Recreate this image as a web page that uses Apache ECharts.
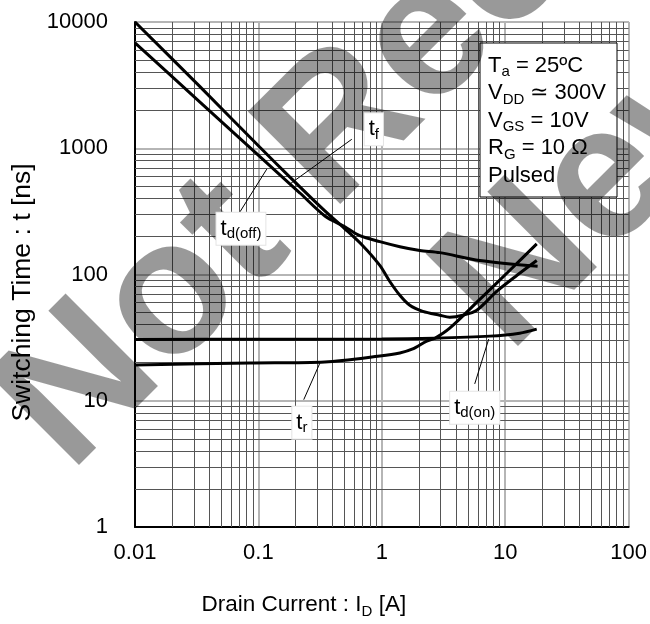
<!DOCTYPE html>
<html><head><meta charset="utf-8">
<script src="https://cdn.jsdelivr.net/npm/echarts@6/dist/echarts.min.js"></script>
<style>html,body{margin:0;padding:0;background:#fff}#c{width:650px;height:624px}</style>
</head><body><div id="c"></div>
<script>
// ---- data ----
const tfI    = [0.01, 0.0336, 0.1028, 0.180, 0.3455, 0.502, 0.701, 0.963, 1.161, 1.40, 1.685, 2.148, 2.95, 3.55, 4.53, 5.88, 8.53, 12.4, 18.0];
const tfT    = [10000, 3077, 1018, 591, 319, 230, 169, 118, 88, 68.4, 57, 51.1, 47.6, 45.9, 47.6, 52.1, 73.5, 98.2, 129];
const tdoffI = [0.01, 0.0336, 0.1028, 0.217, 0.3455, 0.502, 0.664, 0.963, 1.40, 2.03, 2.95, 6.22, 18.3];
const tdoffT = [6840, 2323, 857, 442, 291, 239, 203, 182, 166, 155, 149, 129, 116];
const trI    = [0.01, 0.0853, 0.3455, 0.963, 1.40, 1.78, 2.31, 2.69, 3.55, 6.22, 10.9, 18.0];
const trT    = [19.2, 19.9, 20.3, 22.6, 23.9, 25.7, 29.7, 31.3, 37.6, 63.6, 108, 175];
const tdonI  = [0.01, 0.1, 1, 2.69, 7.49, 13.1, 18.0];
const tdonT  = [30.6, 30.7, 30.8, 31.3, 32.5, 34.3, 36.9];
const xTicks = [0.01, 0.1, 1, 10, 100];
const yTicks = [1, 10, 100, 1000, 10000];
// curve labels: [text, labelI, labelT, leaderFromI, leaderFromT, leaderToI, leaderToT]
const curveLabels = [
  ['{m|t}{s|f}',      0.861, 1412, 0.180, 521, 0.571, 1178],
  ['{m|t}{s|d(off)}', 0.0722, 230, 0.0708, 313, 0.117, 684],
  ['{m|t}{s|r}',      0.225, 6.71, 0.233, 10.2, 0.315, 19.9],
  ['{m|t}{s|d(on)}',  5.66, 8.81, 5.66, 13.6, 7.35, 30.8]
];
const conditions = '{m|T}{s|a}{m| = 25ºC}\n{m|V}{s|DD}{m| ≃ 300V}\n{m|V}{s|GS}{m| = 10V}\n{m|R}{s|G}{m| = 10 Ω}\n{m|Pulsed}';

const FONT = '"Liberation Sans", Arial, sans-serif';
const zip = (a, b) => a.map((v, i) => [v, b[i]]);
const minorX = [], minorY = [];
for (let k = -2; k <= 1; k++) for (let m = 2; m <= 9; m++) minorX.push({xAxis: +(m * Math.pow(10, k)).toPrecision(3)});
for (let k = 0; k <= 3; k++) for (let m = 2; m <= 9; m++) minorY.push({yAxis: +(m * Math.pow(10, k)).toPrecision(3)});
const fmt = v => String(+(+v).toPrecision(6));

const chart = echarts.init(document.getElementById('c'), null, {renderer: 'canvas'});
const curve = (name, data) => ({
  name, type: 'line', data, smooth: 0.3, showSymbol: false, z: 5,
  lineStyle: {color: '#000', width: 3}, animation: false
});
chart.setOption({
  animation: false,
  backgroundColor: '#fff',
  grid: {left: 135, right: 21, top: 22, bottom: 94, show: true, borderColor: '#222', borderWidth: 1, backgroundColor: 'transparent'},
  xAxis: {
    type: 'log', logBase: 10, min: xTicks[0], max: xTicks[xTicks.length - 1], interval: 1,
    name: '{m|Drain Current : I}{s|D}{m| [A]}', nameLocation: 'middle', nameGap: 64,
    nameTextStyle: {padding: [0, 156, 0, 0], rich: {
      m: {fontSize: 22.5, fontFamily: FONT, color: '#000', lineHeight: 28},
      s: {fontSize: 15, fontFamily: FONT, color: '#000', lineHeight: 14, verticalAlign: 'bottom'}
    }},
    axisLine: {show: true, lineStyle: {color: '#000', width: 2}},
    axisTick: {show: false},
    axisLabel: {fontSize: 22, fontFamily: FONT, color: '#000', margin: 15, showMinLabel: true, showMaxLabel: true, formatter: fmt},
    splitLine: {show: true, lineStyle: {color: '#b5b5b5', width: 2}}
  },
  yAxis: {
    type: 'log', logBase: 10, min: yTicks[0], max: yTicks[yTicks.length - 1], interval: 1,
    name: 'Switching Time : t [ns]', nameLocation: 'middle', nameGap: 98,
    nameTextStyle: {fontSize: 26.5, fontFamily: FONT, color: '#000', padding: [0, 36, 0, 0]},
    axisLine: {show: true, lineStyle: {color: '#000', width: 2}},
    axisTick: {show: false},
    axisLabel: {fontSize: 22, fontFamily: FONT, color: '#000', margin: 27, showMinLabel: true, showMaxLabel: true, formatter: fmt},
    splitLine: {show: true, lineStyle: {color: '#b5b5b5', width: 2}}
  },
  series: [
    {type: 'line', data: [[xTicks[0], yTicks[0]]], showSymbol: false, silent: true, z: 1,
     lineStyle: {opacity: 0}, animation: false,
     markLine: {silent: true, symbol: ['none', 'none'], animation: false, label: {show: false},
       lineStyle: {color: '#555', width: 1, type: 'solid'}, emphasis: {disabled: true},
       data: minorX.concat(minorY)}},
    curve('t_f', zip(tfI, tfT)),
    curve('t_d(off)', zip(tdoffI, tdoffT)),
    curve('t_r', zip(trI, trT)),
    curve('t_d(on)', zip(tdonI, tdonT))
  ]
});

const px = (i, t) => chart.convertToPixel({gridIndex: 0}, [i, t]);
const graphics = [];
// conditions box
graphics.push({type: 'rect', shape: {x: 480, y: 43, width: 137, height: 154}, z: 10,
  style: {fill: '#fff', stroke: '#000', lineWidth: 1}});
graphics.push({type: 'text', x: 488, y: 52, z: 11, style: {
  text: conditions, textAlign: 'left', textVerticalAlign: 'top', align: 'left', verticalAlign: 'top',
  rich: {
    m: {fontSize: 22, fontFamily: FONT, fill: '#000', lineHeight: 27.5},
    s: {fontSize: 15, fontFamily: FONT, fill: '#000', lineHeight: 13, verticalAlign: 'bottom'}
  }}});
// watermark
const wm = {fill: 'rgba(0,0,0,0.4)', font: 'bold 190px ' + FONT, textAlign: 'left', textVerticalAlign: 'middle', align: 'left', verticalAlign: 'middle'};
graphics.push({type: 'text', x: 33, y: 437, rotation: Math.PI / 4, z: 50, silent: true, style: Object.assign({text: 'Not Recommended for'}, wm)});
graphics.push({type: 'text', x: 472, y: 318, rotation: Math.PI / 4, z: 50, silent: true, style: Object.assign({text: 'New Design'}, wm)});
// curve labels and leaders
curveLabels.forEach(([txt, li, lt, fi, ft, ti, tt]) => {
  const p = px(li, lt), a = px(fi, ft), b = px(ti, tt);
  graphics.push({type: 'line', z: 55, shape: {x1: a[0], y1: a[1], x2: b[0], y2: b[1]}, style: {stroke: '#000', lineWidth: 1}});
  graphics.push({type: 'text', x: p[0], y: p[1], z: 60, style: {
    text: txt, textAlign: 'center', textVerticalAlign: 'middle', align: 'center', verticalAlign: 'middle',
    backgroundColor: '#fff', borderColor: '#e4e4e4', borderWidth: 1, padding: [3, 4, 3, 4],
    rich: {
      m: {fontSize: 22, fontFamily: FONT, fill: '#000', lineHeight: 26},
      s: {fontSize: 15, fontFamily: FONT, fill: '#000', lineHeight: 11, verticalAlign: 'bottom'}
    }}});
});
chart.setOption({graphic: {elements: graphics}});
</script></body></html>
